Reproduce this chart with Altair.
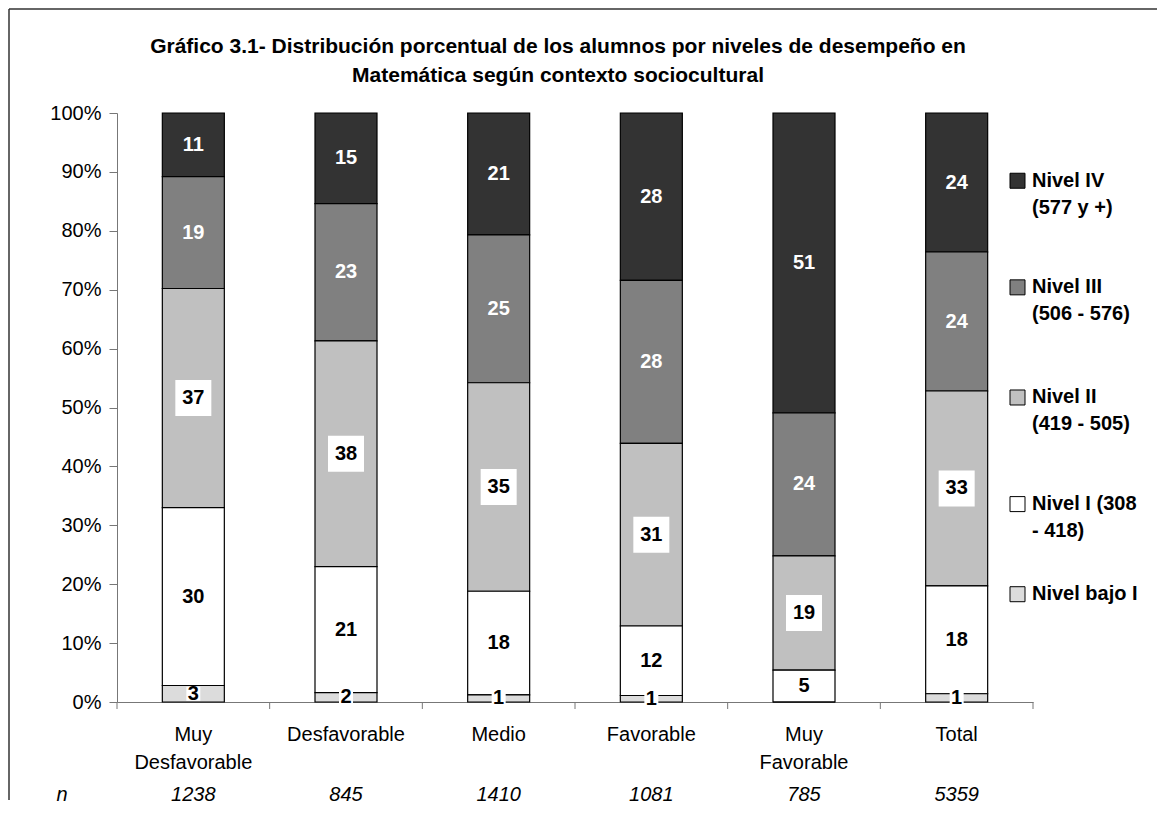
import altair as alt
import pandas as pd

F = "Liberation Sans"

categories = ["Muy Desfavorable", "Desfavorable", "Medio", "Favorable", "Muy Favorable", "Total"]
n_values = [1238, 845, 1410, 1081, 785, 5359]

title_line1 = "Gráfico 3.1- Distribución porcentual de los alumnos por niveles de desempeño en"
title_line2 = "Matemática según contexto sociocultural"

levels = ["Nivel IV (577 y +)", "Nivel III (506 - 576)", "Nivel II (419 - 505)",
          "Nivel I (308 - 418)", "Nivel bajo I"]
legend_line1 = ["Nivel IV", "Nivel III", "Nivel II", "Nivel I (308", "Nivel bajo I"]
legend_line2 = ["(577 y +)", "(506 - 576)", "(419 - 505)", "- 418)", ""]
legend_pos = [88.5, 70.4, 51.7, 33.6, 18.3]
colors = ["#333333", "#808080", "#c0c0c0", "#ffffff", "#dcdcdc"]

nivel_iv = [10.8, 15.4, 20.7, 28.4, 50.9, 23.6]
nivel_iii = [19.0, 23.3, 25.1, 27.7, 24.3, 23.6]
nivel_ii = [37.2, 38.3, 35.4, 31.0, 19.4, 33.1]
nivel_i = [30.2, 21.4, 17.6, 11.8, 5.4, 18.3]
nivel_bajo = [2.8, 1.6, 1.2, 1.1, 0.0, 1.4]

series = [nivel_iv, nivel_iii, nivel_ii, nivel_i, nivel_bajo]
rows = []
for li, (lev, vals) in enumerate(zip(levels, series)):
    for cat, v in zip(categories, vals):
        rows.append({"cat": cat, "level": lev, "value": v, "ord": 4 - li,
                     "grp": "dark" if li < 2 else "light"})
df = pd.DataFrame(rows)

l1 = [c.split(" ")[0] if c.startswith("Muy ") else c for c in categories]
l2 = [c.split(" ", 1)[1] if c.startswith("Muy ") else "" for c in categories]
cdf = pd.DataFrame({"cat": categories, "nval": [str(v) for v in n_values], "l1": l1, "l2": l2})
ldf = pd.DataFrame({"level": levels, "t1": legend_line1, "t2": legend_line2, "pos": legend_pos})
tdf = pd.DataFrame({"t1": [title_line1], "t2": [title_line2]})

W, H = 916, 589

xscale = alt.Scale(domain=categories, paddingInner=0, paddingOuter=0)
yscale = alt.Scale(domain=[0, 100], nice=False)
cscale = alt.Scale(domain=levels, range=colors)
xsimple = alt.X("cat:N", scale=xscale)

bars = alt.Chart(df).mark_bar(stroke="black", strokeWidth=1.2, size=62).encode(
    x=alt.X("cat:N", scale=xscale,
            axis=alt.Axis(title=None, labels=False, ticks=False, domainColor="#777777")),
    y=alt.Y("value:Q", stack="zero", scale=yscale,
            axis=alt.Axis(title=None, values=list(range(0, 101, 10)),
                          labelExpr="datum.value + '%'", tickSize=8, labelPadding=8,
                          labelFont=F, labelFontSize=20, labelColor="black",
                          domainColor="#777777", tickColor="#777777", grid=False)),
    order=alt.Order("ord:Q", sort="ascending"),
    color=alt.Color("level:N", scale=cscale, legend=None),
)

lab = alt.Chart(df).transform_window(
    cum="sum(value)", groupby=["cat"], sort=[alt.SortField("ord", order="ascending")],
    frame=[None, 0]
).transform_calculate(mid="datum.cum - datum.value / 2")

box_ii = lab.transform_filter(alt.datum.level == levels[2]).mark_square(
    size=1296, color="white", opacity=1
).encode(x=xsimple, y=alt.Y("mid:Q", scale=yscale))

box_bajo = lab.transform_filter(
    (alt.datum.level == levels[4]) & (alt.datum.value > 0.5)
).mark_square(size=196, color="white", opacity=1).encode(
    x=xsimple, y=alt.Y("mid:Q", scale=yscale))

labels_dark = lab.transform_filter(alt.datum.grp == "dark").mark_text(
    font=F, fontSize=20, fontWeight="bold", baseline="middle", color="white"
).encode(x=xsimple, y=alt.Y("mid:Q", scale=yscale), text=alt.Text("value:Q", format=".0f"))

labels_light = lab.transform_filter(
    (alt.datum.grp == "light") & (alt.datum.value > 0.5)
).mark_text(
    font=F, fontSize=20, fontWeight="bold", baseline="middle", color="black"
).encode(x=xsimple, y=alt.Y("mid:Q", scale=yscale), text=alt.Text("value:Q", format=".0f"))

ticks = alt.Chart(cdf).mark_rule(color="#777777").encode(
    x=alt.X("cat:N", scale=xscale, bandPosition=0), y=alt.value(H), y2=alt.value(H + 7))
tick_end = alt.Chart(cdf).transform_filter(alt.datum.cat == categories[0]).mark_rule(
    color="#777777").encode(x=alt.value(W), y=alt.value(H), y2=alt.value(H + 7))

xl1 = alt.Chart(cdf).mark_text(font=F, fontSize=20, color="black", baseline="middle").encode(
    x=xsimple, y=alt.value(H + 33), text="l1:N")
xl2 = alt.Chart(cdf).transform_filter(alt.datum.l2 != "").mark_text(
    font=F, fontSize=20, color="black", baseline="middle").encode(
    x=xsimple, y=alt.value(H + 61), text="l2:N")

nrow = alt.Chart(cdf).mark_text(font=F, fontSize=20, fontStyle="italic", color="black",
                                baseline="middle").encode(
    x=xsimple, y=alt.value(H + 93), text="nval:N")
nlab = alt.Chart(cdf).transform_filter(alt.datum.cat == categories[0]).mark_text(
    font=F, fontSize=20, fontStyle="italic", color="black", baseline="middle", text="n"
).encode(x=alt.value(-55), y=alt.value(H + 93))

leg_sym = alt.Chart(ldf).mark_square(size=225, stroke="black", strokeWidth=1, opacity=1).encode(
    x=alt.value(900.5), y=alt.Y("pos:Q", scale=yscale),
    color=alt.Color("level:N", scale=cscale, legend=None))
leg_t1 = alt.Chart(ldf).mark_text(font=F, fontSize=20, fontWeight="bold", color="black",
                                  align="left", baseline="middle").encode(
    x=alt.value(915), y=alt.Y("pos:Q", scale=yscale), text="t1:N")
leg_t2 = alt.Chart(ldf).transform_filter(alt.datum.t2 != "").mark_text(
    font=F, fontSize=20, fontWeight="bold", color="black", align="left",
    baseline="middle", dy=27).encode(
    x=alt.value(915), y=alt.Y("pos:Q", scale=yscale), text="t2:N")

title1 = alt.Chart(tdf).mark_text(font=F, fontSize=21, fontWeight="bold", color="black",
                                  align="center", baseline="alphabetic").encode(
    x=alt.value(441), y=alt.value(-60), text="t1:N")
title2 = alt.Chart(tdf).mark_text(font=F, fontSize=21, fontWeight="bold", color="black",
                                  align="center", baseline="alphabetic").encode(
    x=alt.value(441), y=alt.value(-31), text="t2:N")

frame_top = alt.Chart(cdf).transform_filter(alt.datum.cat == categories[0]).mark_rule(
    color="#333333", strokeWidth=1.5
).encode(x=alt.value(-108), x2=alt.value(W + 124), y=alt.value(-104))
frame_left = alt.Chart(cdf).transform_filter(alt.datum.cat == categories[0]).mark_rule(
    color="#333333", strokeWidth=1.5
).encode(x=alt.value(-108), y=alt.value(-104), y2=alt.value(H + 98))

chart = alt.layer(frame_top, frame_left, bars, box_ii, box_bajo,
                  labels_dark, labels_light, ticks, tick_end, xl1, xl2, nrow, nlab,
                  leg_sym, leg_t1, leg_t2, title1, title2).properties(
    width=W, height=H,
    padding=0,
).configure_view(stroke=None)

chart.save("out.html", embed_options={"renderer": "svg", "actions": False})
